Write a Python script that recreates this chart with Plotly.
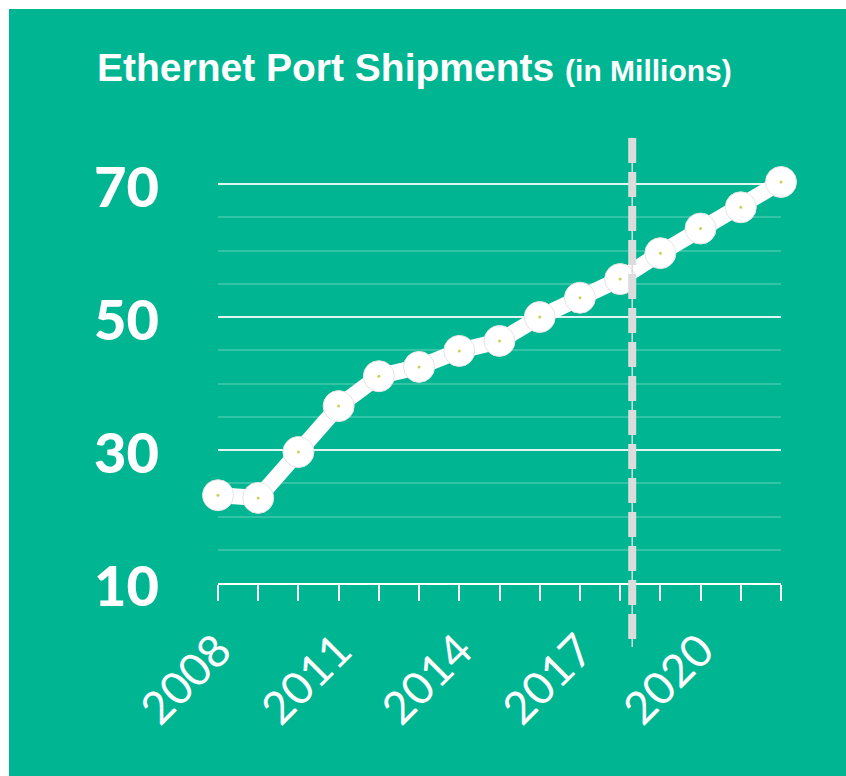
import plotly.graph_objects as go

# Ethernet port shipments, millions of units per year
years = list(range(2008, 2023))
shipments = [23.2, 22.8, 29.7, 36.6, 41.1, 42.5, 44.9, 46.4, 50.0, 52.9,
             55.7, 59.6, 63.3, 66.5, 70.3]
year_labels = [str(y) if (y - 2008) % 3 == 0 else "" for y in years]
y_ticks = [10, 30, 50, 70]
forecast_start = 2018.3

BG = "#00B592"
W, H = 846, 776
ML, MR, MT, MB = 218, 65, 167, 193
PX_PER_UNIT = 6.65
plot_w = W - ML - MR
plot_h = H - MT - MB
y_min = 10
y_max = y_min + plot_h / PX_PER_UNIT

fig = go.Figure()

fig.add_trace(go.Scatter(
    x=years, y=shipments, mode="lines+markers",
    line=dict(color="white", width=16),
    marker=dict(size=31, color="white", line=dict(color="#e4e4e4", width=1)),
    cliponaxis=False, hoverinfo="skip", showlegend=False,
))
fig.add_trace(go.Scatter(
    x=years, y=shipments, mode="markers",
    marker=dict(size=3, color="#cfcf5a"),
    cliponaxis=False, hoverinfo="skip", showlegend=False,
))

# green panel with a thin white strip on the top and left edges
edge = 9
fig.add_shape(
    type="rect", xref="paper", yref="paper", layer="below",
    x0=(edge - ML) / plot_w, x1=(W - ML) / plot_w,
    y0=-MB / plot_h, y1=(plot_h + MT - edge) / plot_h,
    fillcolor=BG, line=dict(width=0),
)

# forecast divider: thin line with thick dashes on top
div_top = (plot_h + MT - 138) / plot_h
div_bot = -(647 - (MT + plot_h)) / plot_h
fig.add_shape(type="line", xref="x", yref="paper", layer="above",
              x0=forecast_start, x1=forecast_start, y0=div_top, y1=div_bot,
              line=dict(color="#dcdcdc", width=1.5))
fig.add_shape(type="line", xref="x", yref="paper", layer="above",
              x0=forecast_start, x1=forecast_start, y0=div_top, y1=div_bot,
              line=dict(color="#dcdcdc", width=8, dash="25px,9px"))

fig.update_layout(
    width=W, height=H,
    margin=dict(l=ML, r=MR, t=MT, b=MB),
    paper_bgcolor="white", plot_bgcolor="rgba(0,0,0,0)",
    title=dict(
        text="<b>Ethernet Port Shipments</b> <b><span style='font-size:30px'>(in Millions)</span></b>",
        font=dict(family="Liberation Sans, Arial", size=39, color="white"),
        xref="container", x=97 / W, xanchor="left",
        yref="container", y=1 - 67 / H, yanchor="middle",
    ),
    xaxis=dict(
        range=[2008, 2022],
        tickmode="array", tickvals=years, ticktext=year_labels,
        tickangle=-45,
        tickfont=dict(family="Lato", size=45, color="white"),
        ticks="outside", ticklen=16, tickwidth=2, tickcolor="white",
        showline=True, linecolor="white", linewidth=2,
        showgrid=False, zeroline=False,
        ticklabelstandoff=5,
    ),
    yaxis=dict(
        range=[y_min, y_max],
        tickmode="array", tickvals=y_ticks,
        tickfont=dict(family="Lato", size=56, color="white", weight=900),
        showgrid=True, gridcolor="rgba(255,255,255,0.85)", gridwidth=2,
        minor=dict(dtick=5, tick0=10, showgrid=True,
                   gridcolor="rgba(255,255,255,0.2)", gridwidth=2),
        showline=False, zeroline=False, ticks="",
        ticklabelstandoff=58, ticklabelshift=3,
    ),
)

fig.write_html("out.html")
